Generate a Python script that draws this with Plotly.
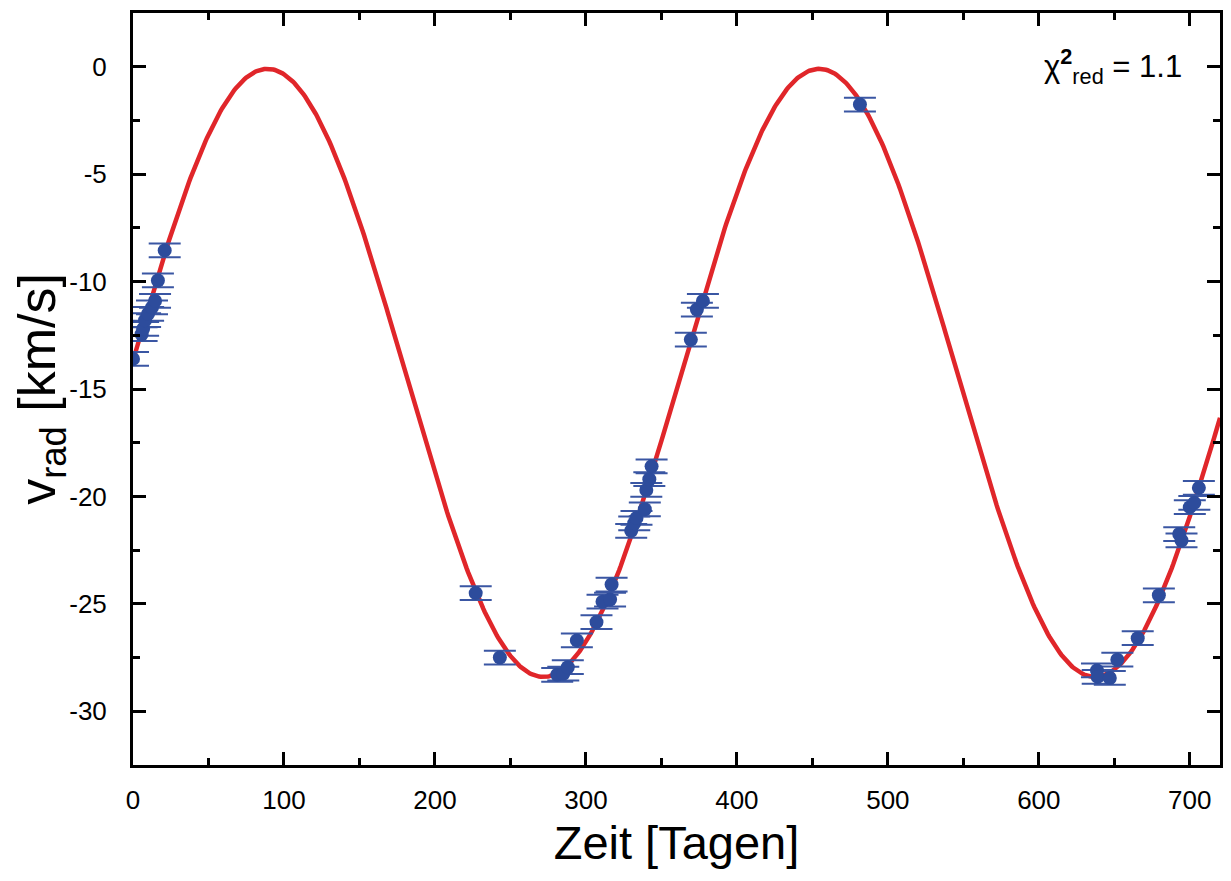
import numpy as np
import plotly.graph_objects as go

days = [0, 5.7, 6.7, 8, 10, 12.6, 14.6, 16.5, 21,
        227, 243,
        281, 285, 288, 294, 307, 311, 316, 317,
        330, 332, 333.5, 339, 340, 342, 343.5,
        369.5, 373.5, 377.5,
        481.5,
        638.5, 639, 647, 652, 665.5, 679.5, 693, 694.5, 700, 703, 706]
vrad = [-13.6, -12.45, -12.2, -11.8, -11.5, -11.2, -10.9, -9.95, -8.55,
        -24.5, -27.5,
        -28.3, -28.25, -27.95, -26.7, -25.85, -24.9, -24.8, -24.1,
        -21.6, -21.25, -21.0, -20.6, -19.7, -19.2, -18.6,
        -12.7, -11.3, -10.9,
        -1.76,
        -28.1, -28.4, -28.45, -27.6, -26.6, -24.6, -21.75, -22.05, -20.5, -20.3, -19.6]
verr = [0.32] * len(days)

# Sine fit parameters (as shown by red model curve)
fit_period = 365.5
fit_amplitude = 14.15
fit_offset = -14.25
fit_t_max = 89.0

t_fit = np.linspace(0, 720, 721)
v_fit = fit_offset + fit_amplitude * np.cos(2 * np.pi * (t_fit - fit_t_max) / fit_period)

x_ticks = [0, 100, 200, 300, 400, 500, 600, 700]
y_ticks = [0, -5, -10, -15, -20, -25, -30]

fig = go.Figure()
fig.add_trace(go.Scatter(x=t_fit, y=v_fit, mode="lines",
                         line=dict(color="#e0262a", width=4.5), showlegend=False,
                         hoverinfo="skip"))
fig.add_trace(go.Scatter(x=days, y=vrad, mode="markers",
                         marker=dict(color="#2d4c9c", size=14),
                         error_y=dict(type="data", array=verr, visible=True,
                                      color="#3a56a3", thickness=2, width=16),
                         showlegend=False))

fig.add_annotation(x=1, y=0, xref="paper", yref="y", xanchor="right", yanchor="middle",
                   xshift=-36, text="χ<sup><b>2</b></sup><sub>red</sub> = 1.1",
                   showarrow=False, font=dict(family="Liberation Sans", size=31, color="black"))

axis_common = dict(showline=True, linecolor="black", linewidth=3, mirror="ticks",
                   ticks="inside", tickcolor="black", tickwidth=2.5, ticklen=13,
                   showgrid=False, zeroline=False,
                   tickfont=dict(family="Liberation Sans", size=26, color="black"))

fig.update_xaxes(range=[0, 720], tickvals=x_ticks, ticktext=[str(v) for v in x_ticks],
                 minor=dict(ticks="inside", ticklen=7, tickwidth=2.5, tickcolor="black",
                            dtick=50, tick0=0, showgrid=False),
                 title=dict(text="Zeit [Tagen]", font=dict(family="Liberation Sans", size=47, color="black"),
                            standoff=12),
                 ticklabelstandoff=10,
                 **axis_common)
fig.update_yaxes(range=[-32.5, 2.5], tickvals=y_ticks, ticktext=[str(v) for v in y_ticks],
                 minor=dict(ticks="inside", ticklen=7, tickwidth=2.5, tickcolor="black",
                            dtick=2.5, tick0=0, showgrid=False),
                 title=dict(text="v<sub>rad</sub> [km/s]", font=dict(family="Liberation Sans", size=52, color="black"),
                            standoff=8),
                 ticklabelstandoff=18,
                 **axis_common)

fig.update_layout(width=1223, height=873, plot_bgcolor="white", paper_bgcolor="white",
                  margin=dict(l=125, r=11, t=2, b=116))

fig.write_html("out.html")
